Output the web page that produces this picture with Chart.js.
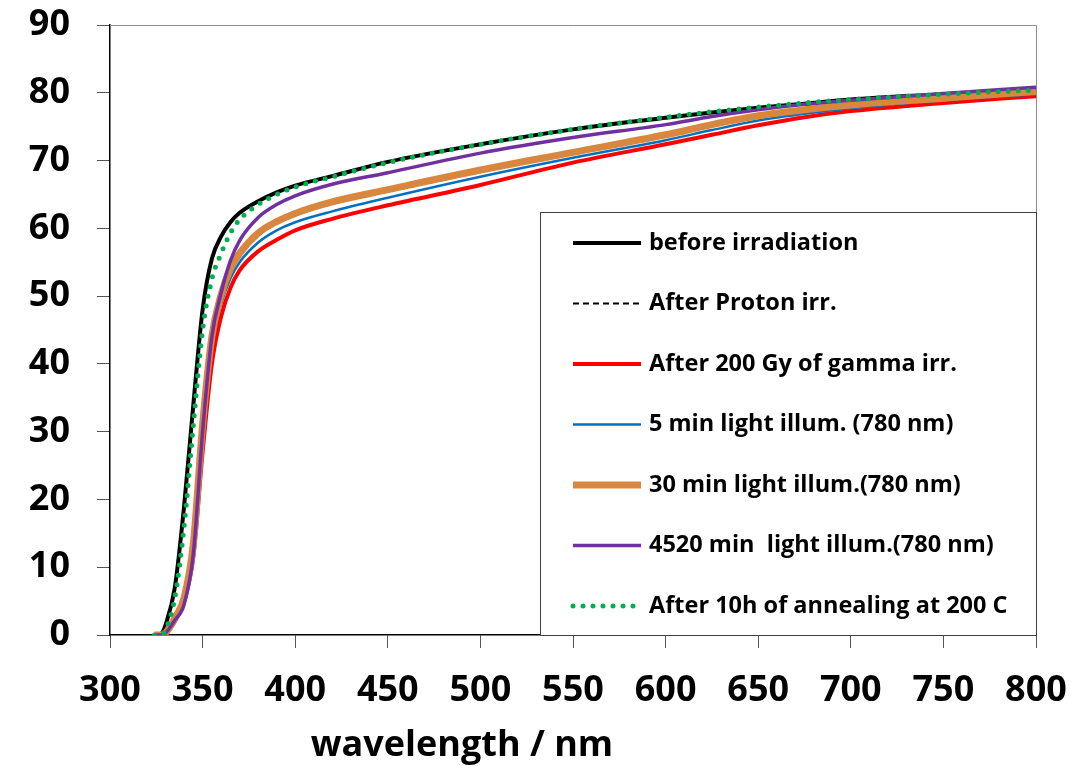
<!DOCTYPE html>
<html>
<head>
<meta charset="utf-8">
<script src="https://cdn.jsdelivr.net/npm/chart.js@4/dist/chart.umd.min.js"></script>
<style>
  html, body { margin: 0; padding: 0; background: #fff; }
  #wrap { width: 1084px; height: 766px; position: relative; }
</style>
</head>
<body>
<div id="wrap"><canvas id="spectra"></canvas></div>
<script>
// wavelength grid shared by all spectra (nm)
const wavelengths = [324, 328, 330, 335, 340, 345, 350, 355, 360, 365, 370, 380, 390, 400, 420, 450, 500, 550, 600, 625, 650, 675, 700, 750, 800];

// transmittance values, one list per sample state
const beforeIrr  = [0, 0.3, 1.5, 7, 19, 34, 48, 55.5, 58.8, 60.9, 62.3, 64.0, 65.3, 66.3, 67.7, 69.8, 72.4, 74.6, 76.3, 77.1, 77.8, 78.4, 79.0, 79.8, 80.6];
const protonIrr  = [0, 0, 0.3, 2.5, 5.5, 13.5, 30.5, 43.5, 49.8, 53.6, 55.9, 58.9, 60.7, 61.9, 63.6, 65.4, 68.3, 71.0, 73.6, 75.1, 76.4, 77.4, 78.1, 79.1, 80.0];
const gammaIrr   = [0, 0, 0.2, 2, 5, 11.5, 27, 40, 47, 51.2, 53.8, 56.6, 58.3, 59.7, 61.4, 63.4, 66.4, 69.7, 72.4, 73.8, 75.2, 76.4, 77.3, 78.5, 79.5];
const illum5     = [0, 0, 0.3, 2.5, 5.5, 13, 30, 42.5, 48.8, 52.6, 55.0, 57.9, 59.7, 60.9, 62.5, 64.5, 67.6, 70.4, 73.0, 74.5, 75.9, 76.9, 77.7, 78.9, 79.8];
const illum30    = [0, 0, 0.3, 2.5, 5.5, 13.5, 31, 44, 50.2, 54, 56.3, 59.3, 61.0, 62.2, 63.9, 65.7, 68.6, 71.2, 73.8, 75.3, 76.6, 77.5, 78.2, 79.2, 80.2];
const illum4520  = [0, 0, 0.3, 2.2, 4.5, 12, 30, 44, 50.5, 55.2, 58.2, 61.6, 63.5, 64.8, 66.5, 68.2, 71.1, 73.4, 75.3, 76.5, 77.5, 78.3, 78.9, 79.9, 80.8];
const annealed   = [0, 0.1, 0.8, 5.5, 16, 31, 45, 52.5, 56.3, 59.3, 61.3, 63.5, 65.0, 66.1, 67.6, 69.7, 72.4, 74.6, 76.4, 77.2, 77.9, 78.5, 79.0, 79.8, 80.4];

const seriesLabels = [
  'before irradiation',
  'After Proton irr.',
  'After 200 Gy of gamma irr.',
  '5 min light illum. (780 nm)',
  '30 min light illum.(780 nm)',
  '4520 min  light illum.(780 nm)',
  'After 10h of annealing at 200 C'
];

const xTicks = [300, 350, 400, 450, 500, 550, 600, 650, 700, 750, 800];
const yTicks = [0, 10, 20, 30, 40, 50, 60, 70, 80, 90];

const FONT = '"Open Sans", "DejaVu Sans", sans-serif';

function toPoints(values) {
  return wavelengths.map((w, i) => ({ x: w, y: values[i] }));
}

const styles = [
  { color: '#000000', width: 4,   dash: [],      cap: 'butt' },
  { color: '#000000', width: 2,   dash: [6, 4],  cap: 'butt' },
  { color: '#ff0000', width: 4,   dash: [],      cap: 'butt' },
  { color: '#0070c0', width: 2.5, dash: [],      cap: 'butt' },
  { color: '#d9873f', width: 7,   dash: [],      cap: 'butt' },
  { color: '#7030a0', width: 3.5, dash: [],      cap: 'butt' },
  { color: '#00b050', width: 5,   dash: [0, 10], cap: 'round' }
];
const seriesValues = [beforeIrr, protonIrr, gammaIrr, illum5, illum30, illum4520, annealed];

const datasets = seriesValues.map((vals, i) => ({
  label: seriesLabels[i],
  data: toPoints(vals),
  borderColor: styles[i].color,
  borderWidth: styles[i].width,
  borderDash: styles[i].dash,
  borderCapStyle: styles[i].cap,
  pointRadius: 0,
  cubicInterpolationMode: 'monotone',
  fill: false,
  order: seriesValues.length - i
}));

// plot frame (grey top/right edges) and the boxed legend in the lower right
const frameAndLegend = {
  id: 'frameAndLegend',
  afterDatasetsDraw(chart) {
    const ctx = chart.ctx;
    const a = chart.chartArea;
    ctx.save();
    ctx.strokeStyle = '#8c8c8c';
    ctx.lineWidth = 1;
    ctx.beginPath();
    ctx.moveTo(a.left, a.top + 0.5);
    ctx.lineTo(a.right + 0.5, a.top + 0.5);
    ctx.lineTo(a.right + 0.5, a.bottom);
    ctx.stroke();

    const left = a.right - 496, top = a.top + 187;
    ctx.fillStyle = '#ffffff';
    ctx.fillRect(left, top, a.right - left, a.bottom - top);
    ctx.strokeStyle = '#404040';
    ctx.strokeRect(left + 0.5, top + 0.5, a.right - left, a.bottom - top);

    ctx.font = 'bold 23.5px ' + FONT;
    ctx.textBaseline = 'middle';
    ctx.textAlign = 'left';
    datasets.forEach((ds, i) => {
      const y = top + 31 + i * 60.5;
      ctx.beginPath();
      ctx.strokeStyle = ds.borderColor;
      ctx.lineWidth = ds.borderWidth;
      ctx.setLineDash(ds.borderDash);
      ctx.lineCap = ds.borderCapStyle;
      ctx.moveTo(left + 33, y);
      ctx.lineTo(left + 101, y);
      ctx.stroke();
      ctx.setLineDash([]);
      ctx.lineCap = 'butt';
      ctx.fillStyle = '#000000';
      ctx.fillText(ds.label, left + 109, y);
    });

    // x axis title
    ctx.font = 'bold 36px ' + FONT;
    ctx.textAlign = 'center';
    ctx.textBaseline = 'alphabetic';
    ctx.fillText('wavelength / nm', a.left + 352, 756);
    ctx.restore();
  }
};

new Chart(document.getElementById('spectra'), {
  type: 'line',
  data: { datasets },
  options: {
    responsive: true,
    maintainAspectRatio: false,
    animation: false,
    layout: { padding: { top: 25, right: 48, bottom: 0, left: 0 } },
    plugins: { legend: { display: false }, tooltip: { enabled: false } },
    scales: {
      x: {
        type: 'linear',
        min: xTicks[0],
        max: xTicks[xTicks.length - 1],
        afterBuildTicks(scale) { scale.ticks = xTicks.map(v => ({ value: v })); },
        afterFit(scale) {
          scale.height = 131;
          scale.paddingLeft = 0;
          scale.paddingRight = 0;
        },
        grid: { drawOnChartArea: false, drawTicks: true, tickLength: 13, color: '#555' },
        border: { color: '#000', width: 1.5 },
        ticks: { color: '#000', font: { family: FONT, size: 36, weight: 'bold' }, padding: 21, maxRotation: 0, autoSkip: false }
      },
      y: {
        min: yTicks[0],
        max: yTicks[yTicks.length - 1],
        afterBuildTicks(scale) { scale.ticks = yTicks.map(v => ({ value: v })); },
        afterFit(scale) {
          scale.width = 110;
          scale.paddingTop = 0;
          scale.paddingBottom = 0;
        },
        grid: { drawOnChartArea: false, drawTicks: true, tickLength: 13, color: '#555' },
        border: { color: '#000', width: 1.5 },
        ticks: { color: '#000', font: { family: FONT, size: 36, weight: 'bold' }, padding: 27, autoSkip: false }
      }
    }
  },
  plugins: [frameAndLegend]
});
</script>
</body>
</html>
